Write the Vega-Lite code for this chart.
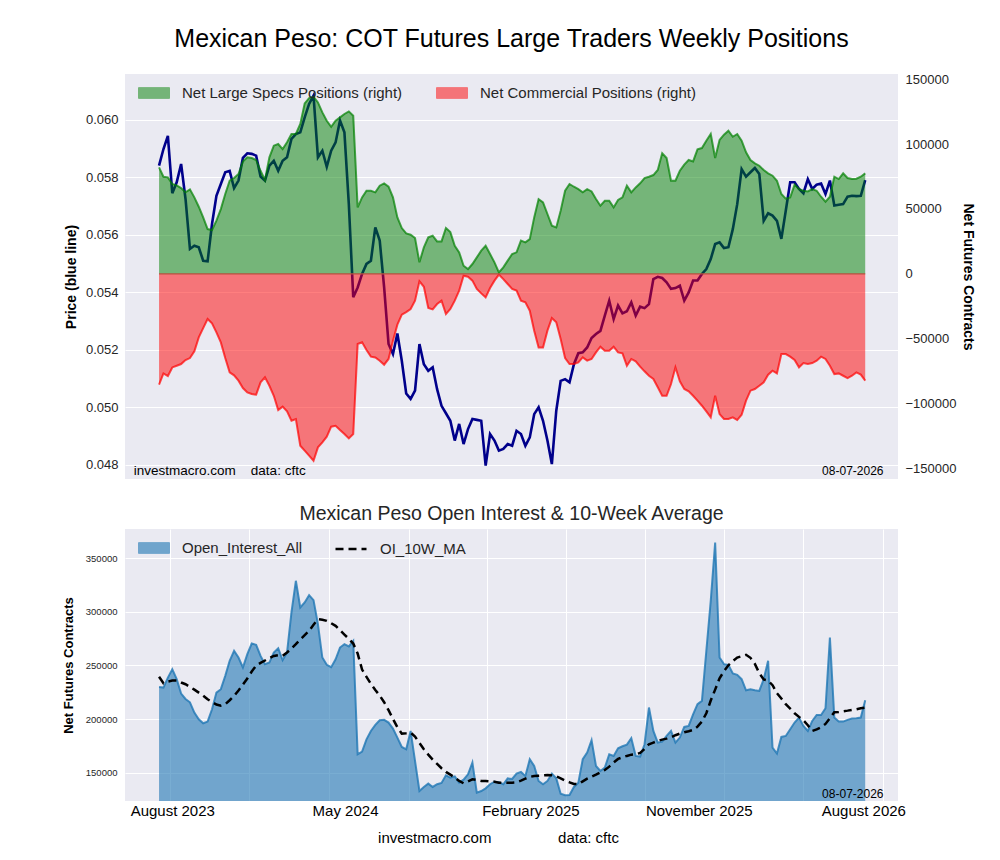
{
  "$schema": "https://vega.github.io/schema/vega-lite/v6.json",
  "description": "Mexican Peso: COT Futures Large Traders Weekly Positions",
  "background": "white",
  "padding": {"left": 62, "top": 27, "right": 5, "bottom": 5},
  "data": {
    "values": [
      {"d": "2023-07-11", "p": 0.05841, "s": 82000, "c": -85300, "oi": 229900, "ma": 239300},
      {"d": "2023-07-18", "p": 0.05899, "s": 74800, "c": -76600, "oi": 229300, "ma": 233400},
      {"d": "2023-07-25", "p": 0.05945, "s": 74300, "c": -78600, "oi": 238600, "ma": 234900},
      {"d": "2023-08-01", "p": 0.05745, "s": 69200, "c": -72000, "oi": 246400, "ma": 235800},
      {"d": "2023-08-08", "p": 0.05783, "s": 68200, "c": -70700, "oi": 237100, "ma": 235800},
      {"d": "2023-08-15", "p": 0.05847, "s": 66100, "c": -69400, "oi": 223700, "ma": 234000},
      {"d": "2023-08-22", "p": 0.05725, "s": 62800, "c": -66300, "oi": 218700, "ma": 232400},
      {"d": "2023-08-29", "p": 0.05551, "s": 65100, "c": -64800, "oi": 215600, "ma": 229900},
      {"d": "2023-09-05", "p": 0.05562, "s": 58900, "c": -59600, "oi": 206000, "ma": 227400},
      {"d": "2023-09-12", "p": 0.05557, "s": 51700, "c": -48900, "oi": 199800, "ma": 224600},
      {"d": "2023-09-19", "p": 0.05510, "s": 43500, "c": -41700, "oi": 196000, "ma": 221800},
      {"d": "2023-09-26", "p": 0.05508, "s": 34500, "c": -34700, "oi": 197600, "ma": 218400},
      {"d": "2023-10-03", "p": 0.05638, "s": 33800, "c": -38100, "oi": 209100, "ma": 215900},
      {"d": "2023-10-10", "p": 0.05736, "s": 41000, "c": -45000, "oi": 224600, "ma": 213500},
      {"d": "2023-10-17", "p": 0.05777, "s": 49900, "c": -52700, "oi": 227800, "ma": 212500},
      {"d": "2023-10-24", "p": 0.05818, "s": 61500, "c": -64800, "oi": 240200, "ma": 213800},
      {"d": "2023-10-31", "p": 0.05823, "s": 71700, "c": -75800, "oi": 254200, "ma": 217500},
      {"d": "2023-11-07", "p": 0.05763, "s": 73800, "c": -78100, "oi": 263500, "ma": 221500},
      {"d": "2023-11-14", "p": 0.05789, "s": 76900, "c": -82200, "oi": 257300, "ma": 226500},
      {"d": "2023-11-21", "p": 0.05868, "s": 86600, "c": -87900, "oi": 248000, "ma": 232100},
      {"d": "2023-11-28", "p": 0.05884, "s": 89700, "c": -91200, "oi": 260400, "ma": 237700},
      {"d": "2023-12-05", "p": 0.05882, "s": 89200, "c": -92500, "oi": 270300, "ma": 244200},
      {"d": "2023-12-12", "p": 0.05876, "s": 87700, "c": -93000, "oi": 269100, "ma": 249800},
      {"d": "2023-12-19", "p": 0.05803, "s": 79400, "c": -83500, "oi": 258800, "ma": 252300},
      {"d": "2023-12-26", "p": 0.05789, "s": 72300, "c": -79600, "oi": 251100, "ma": 254500},
      {"d": "2024-01-02", "p": 0.05841, "s": 89700, "c": -86100, "oi": 252600, "ma": 256700},
      {"d": "2024-01-09", "p": 0.05858, "s": 98700, "c": -93800, "oi": 262000, "ma": 258800},
      {"d": "2024-01-16", "p": 0.05823, "s": 100000, "c": -104800, "oi": 266000, "ma": 259500},
      {"d": "2024-01-23", "p": 0.05858, "s": 96100, "c": -102200, "oi": 254800, "ma": 258800},
      {"d": "2024-01-30", "p": 0.05870, "s": 101300, "c": -105800, "oi": 262000, "ma": 262000},
      {"d": "2024-02-06", "p": 0.05934, "s": 107700, "c": -113000, "oi": 299300, "ma": 265700},
      {"d": "2024-02-13", "p": 0.05951, "s": 107700, "c": -111700, "oi": 328800, "ma": 269700},
      {"d": "2024-02-20", "p": 0.05957, "s": 115400, "c": -132300, "oi": 303900, "ma": 274100},
      {"d": "2024-02-27", "p": 0.06009, "s": 131300, "c": -136100, "oi": 308600, "ma": 278100},
      {"d": "2024-03-05", "p": 0.06056, "s": 135400, "c": -139900, "oi": 315400, "ma": 282200},
      {"d": "2024-03-12", "p": 0.06085, "s": 136400, "c": -143800, "oi": 310800, "ma": 287800},
      {"d": "2024-03-19", "p": 0.05870, "s": 132000, "c": -133500, "oi": 288400, "ma": 293000},
      {"d": "2024-03-26", "p": 0.05893, "s": 124300, "c": -129700, "oi": 257300, "ma": 292400},
      {"d": "2024-04-02", "p": 0.05837, "s": 117900, "c": -125300, "oi": 250500, "ma": 291500},
      {"d": "2024-04-09", "p": 0.05893, "s": 113300, "c": -117600, "oi": 248300, "ma": 289300},
      {"d": "2024-04-16", "p": 0.05922, "s": 117900, "c": -116900, "oi": 255700, "ma": 286800},
      {"d": "2024-04-23", "p": 0.05998, "s": 120500, "c": -120200, "oi": 266600, "ma": 282800},
      {"d": "2024-04-30", "p": 0.05957, "s": 123100, "c": -123300, "oi": 269700, "ma": 278700},
      {"d": "2024-05-07", "p": 0.05707, "s": 125100, "c": -126600, "oi": 267600, "ma": 274700},
      {"d": "2024-05-14", "p": 0.05383, "s": 121800, "c": -123300, "oi": 272800, "ma": 270300},
      {"d": "2024-05-21", "p": 0.05417, "s": 51200, "c": -54000, "oi": 167100, "ma": 261000},
      {"d": "2024-05-28", "p": 0.05464, "s": 58900, "c": -52700, "oi": 169600, "ma": 246100},
      {"d": "2024-06-04", "p": 0.05499, "s": 64000, "c": -58600, "oi": 181100, "ma": 239300},
      {"d": "2024-06-11", "p": 0.05510, "s": 64000, "c": -63700, "oi": 188900, "ma": 232700},
      {"d": "2024-06-18", "p": 0.05626, "s": 62800, "c": -64300, "oi": 194500, "ma": 227100},
      {"d": "2024-06-25", "p": 0.05580, "s": 67900, "c": -66800, "oi": 198800, "ma": 221800},
      {"d": "2024-07-02", "p": 0.05417, "s": 69700, "c": -69900, "oi": 199200, "ma": 215600},
      {"d": "2024-07-09", "p": 0.05220, "s": 67100, "c": -65500, "oi": 196700, "ma": 208200},
      {"d": "2024-07-16", "p": 0.05185, "s": 58900, "c": -51400, "oi": 191100, "ma": 200100},
      {"d": "2024-07-23", "p": 0.05257, "s": 43500, "c": -39100, "oi": 182700, "ma": 192300},
      {"d": "2024-07-30", "p": 0.05162, "s": 35300, "c": -31400, "oi": 174000, "ma": 186400},
      {"d": "2024-08-06", "p": 0.05048, "s": 31200, "c": -29400, "oi": 171800, "ma": 186700},
      {"d": "2024-08-13", "p": 0.05029, "s": 30200, "c": -27000, "oi": 188900, "ma": 187300},
      {"d": "2024-08-20", "p": 0.05058, "s": 27600, "c": -20600, "oi": 160900, "ma": 183600},
      {"d": "2024-08-27", "p": 0.05220, "s": 8900, "c": -5700, "oi": 132900, "ma": 177700},
      {"d": "2024-09-03", "p": 0.05150, "s": 20400, "c": -9900, "oi": 136700, "ma": 171800},
      {"d": "2024-09-10", "p": 0.05127, "s": 28100, "c": -26300, "oi": 139800, "ma": 166800},
      {"d": "2024-09-17", "p": 0.05139, "s": 29400, "c": -27300, "oi": 136700, "ma": 162200},
      {"d": "2024-09-24", "p": 0.05063, "s": 25000, "c": -23200, "oi": 139200, "ma": 158100},
      {"d": "2024-10-01", "p": 0.05005, "s": 25000, "c": -20600, "oi": 140400, "ma": 154100},
      {"d": "2024-10-08", "p": 0.04979, "s": 35300, "c": -30900, "oi": 147500, "ma": 150700},
      {"d": "2024-10-15", "p": 0.04953, "s": 32200, "c": -27000, "oi": 145400, "ma": 148200},
      {"d": "2024-10-22", "p": 0.04884, "s": 21700, "c": -20600, "oi": 146600, "ma": 145400},
      {"d": "2024-10-29", "p": 0.04942, "s": 16600, "c": -12900, "oi": 140700, "ma": 142300},
      {"d": "2024-11-05", "p": 0.04872, "s": 6300, "c": -1400, "oi": 143500, "ma": 140100},
      {"d": "2024-11-12", "p": 0.04924, "s": 3700, "c": -2200, "oi": 148500, "ma": 141900},
      {"d": "2024-11-19", "p": 0.04959, "s": 7600, "c": -5200, "oi": 159400, "ma": 143800},
      {"d": "2024-11-26", "p": 0.04956, "s": 12700, "c": -11600, "oi": 131400, "ma": 143200},
      {"d": "2024-12-03", "p": 0.04953, "s": 17900, "c": -15000, "oi": 132900, "ma": 142300},
      {"d": "2024-12-10", "p": 0.04797, "s": 21700, "c": -18100, "oi": 135400, "ma": 142300},
      {"d": "2024-12-17", "p": 0.04907, "s": 15300, "c": -10900, "oi": 139200, "ma": 141900},
      {"d": "2024-12-24", "p": 0.04884, "s": 8900, "c": -5200, "oi": 141600, "ma": 141600},
      {"d": "2024-12-31", "p": 0.04849, "s": 1200, "c": -500, "oi": 141000, "ma": 140700},
      {"d": "2025-01-07", "p": 0.04855, "s": 5000, "c": -4000, "oi": 139200, "ma": 140700},
      {"d": "2025-01-14", "p": 0.04872, "s": 10200, "c": -7800, "oi": 144700, "ma": 140700},
      {"d": "2025-01-21", "p": 0.04866, "s": 15300, "c": -11600, "oi": 144100, "ma": 140700},
      {"d": "2025-01-28", "p": 0.04918, "s": 16600, "c": -12900, "oi": 149100, "ma": 141000},
      {"d": "2025-02-04", "p": 0.04907, "s": 25600, "c": -20600, "oi": 150700, "ma": 142600},
      {"d": "2025-02-11", "p": 0.04866, "s": 24300, "c": -21900, "oi": 146900, "ma": 144400},
      {"d": "2025-02-18", "p": 0.04895, "s": 26800, "c": -28300, "oi": 162500, "ma": 146000},
      {"d": "2025-02-25", "p": 0.04976, "s": 43500, "c": -43700, "oi": 156200, "ma": 146900},
      {"d": "2025-03-04", "p": 0.05000, "s": 57600, "c": -56600, "oi": 142300, "ma": 147200},
      {"d": "2025-03-11", "p": 0.04953, "s": 55100, "c": -56600, "oi": 139200, "ma": 147500},
      {"d": "2025-03-18", "p": 0.04884, "s": 46100, "c": -43700, "oi": 142300, "ma": 147800},
      {"d": "2025-03-25", "p": 0.04802, "s": 37100, "c": -34000, "oi": 149100, "ma": 147500},
      {"d": "2025-04-01", "p": 0.04988, "s": 35800, "c": -37300, "oi": 144700, "ma": 146600},
      {"d": "2025-04-08", "p": 0.05092, "s": 48700, "c": -50100, "oi": 130400, "ma": 144700},
      {"d": "2025-04-15", "p": 0.05098, "s": 64000, "c": -64800, "oi": 128900, "ma": 142600},
      {"d": "2025-04-22", "p": 0.05087, "s": 69200, "c": -69400, "oi": 129200, "ma": 141000},
      {"d": "2025-04-29", "p": 0.05150, "s": 67100, "c": -69400, "oi": 136700, "ma": 139500},
      {"d": "2025-05-06", "p": 0.05188, "s": 65300, "c": -68100, "oi": 140700, "ma": 139200},
      {"d": "2025-05-13", "p": 0.05191, "s": 62800, "c": -64300, "oi": 162500, "ma": 141900},
      {"d": "2025-05-20", "p": 0.05208, "s": 65300, "c": -66800, "oi": 168700, "ma": 144400},
      {"d": "2025-05-27", "p": 0.05241, "s": 63500, "c": -65500, "oi": 180200, "ma": 146300},
      {"d": "2025-06-03", "p": 0.05255, "s": 57600, "c": -60400, "oi": 156200, "ma": 148200},
      {"d": "2025-06-10", "p": 0.05266, "s": 52500, "c": -56000, "oi": 151600, "ma": 150300},
      {"d": "2025-06-17", "p": 0.05319, "s": 56300, "c": -59100, "oi": 154700, "ma": 152500},
      {"d": "2025-06-24", "p": 0.05371, "s": 56300, "c": -59100, "oi": 167100, "ma": 155600},
      {"d": "2025-07-01", "p": 0.05307, "s": 51200, "c": -56000, "oi": 165600, "ma": 159400},
      {"d": "2025-07-08", "p": 0.05354, "s": 56900, "c": -60400, "oi": 172700, "ma": 162800},
      {"d": "2025-07-15", "p": 0.05327, "s": 58900, "c": -61200, "oi": 174600, "ma": 164300},
      {"d": "2025-07-22", "p": 0.05334, "s": 67900, "c": -70700, "oi": 176100, "ma": 165600},
      {"d": "2025-07-29", "p": 0.05365, "s": 62800, "c": -65500, "oi": 182100, "ma": 166800},
      {"d": "2025-08-05", "p": 0.05319, "s": 66600, "c": -67300, "oi": 165600, "ma": 167100},
      {"d": "2025-08-12", "p": 0.05350, "s": 69700, "c": -71400, "oi": 165000, "ma": 168400},
      {"d": "2025-08-19", "p": 0.05345, "s": 73800, "c": -75000, "oi": 176500, "ma": 172100},
      {"d": "2025-08-26", "p": 0.05359, "s": 74800, "c": -78400, "oi": 210700, "ma": 176500},
      {"d": "2025-09-02", "p": 0.05446, "s": 76100, "c": -80900, "oi": 188900, "ma": 178000},
      {"d": "2025-09-09", "p": 0.05454, "s": 80000, "c": -87300, "oi": 178000, "ma": 179600},
      {"d": "2025-09-16", "p": 0.05450, "s": 92800, "c": -93800, "oi": 178900, "ma": 180800},
      {"d": "2025-09-23", "p": 0.05435, "s": 89200, "c": -93800, "oi": 184200, "ma": 181700},
      {"d": "2025-09-30", "p": 0.05412, "s": 71700, "c": -84800, "oi": 188900, "ma": 183000},
      {"d": "2025-10-07", "p": 0.05415, "s": 71700, "c": -71900, "oi": 178000, "ma": 184900},
      {"d": "2025-10-14", "p": 0.05423, "s": 79400, "c": -82700, "oi": 182700, "ma": 186400},
      {"d": "2025-10-21", "p": 0.05371, "s": 84100, "c": -88600, "oi": 192600, "ma": 187700},
      {"d": "2025-10-28", "p": 0.05400, "s": 87700, "c": -90400, "oi": 193600, "ma": 188600},
      {"d": "2025-11-04", "p": 0.05441, "s": 86600, "c": -93800, "oi": 204400, "ma": 189800},
      {"d": "2025-11-11", "p": 0.05441, "s": 95900, "c": -97600, "oi": 213800, "ma": 192900},
      {"d": "2025-11-18", "p": 0.05464, "s": 96900, "c": -101500, "oi": 216900, "ma": 197600},
      {"d": "2025-11-25", "p": 0.05481, "s": 102500, "c": -105800, "oi": 263500, "ma": 205400},
      {"d": "2025-12-02", "p": 0.05516, "s": 107700, "c": -110400, "oi": 310100, "ma": 217200},
      {"d": "2025-12-09", "p": 0.05568, "s": 89200, "c": -93800, "oi": 364500, "ma": 227400},
      {"d": "2025-12-16", "p": 0.05574, "s": 103100, "c": -107900, "oi": 257300, "ma": 238000},
      {"d": "2025-12-23", "p": 0.05554, "s": 107200, "c": -111700, "oi": 251100, "ma": 244500},
      {"d": "2025-12-30", "p": 0.05557, "s": 110200, "c": -111700, "oi": 250500, "ma": 250100},
      {"d": "2026-01-06", "p": 0.05620, "s": 105600, "c": -110400, "oi": 242400, "ma": 253900},
      {"d": "2026-01-13", "p": 0.05707, "s": 107700, "c": -112500, "oi": 241100, "ma": 257300},
      {"d": "2026-01-20", "p": 0.05829, "s": 102500, "c": -108400, "oi": 237100, "ma": 258500},
      {"d": "2026-01-27", "p": 0.05803, "s": 93600, "c": -97600, "oi": 226800, "ma": 259800},
      {"d": "2026-02-03", "p": 0.05818, "s": 87700, "c": -89900, "oi": 227800, "ma": 257000},
      {"d": "2026-02-10", "p": 0.05833, "s": 85100, "c": -88600, "oi": 226800, "ma": 251400},
      {"d": "2026-02-17", "p": 0.05812, "s": 83300, "c": -86100, "oi": 226200, "ma": 242700},
      {"d": "2026-02-24", "p": 0.05649, "s": 80000, "c": -83500, "oi": 237100, "ma": 236800},
      {"d": "2026-03-03", "p": 0.05675, "s": 77400, "c": -77600, "oi": 254200, "ma": 235800},
      {"d": "2026-03-10", "p": 0.05667, "s": 75600, "c": -74500, "oi": 173300, "ma": 231500},
      {"d": "2026-03-17", "p": 0.05649, "s": 71700, "c": -76600, "oi": 167800, "ma": 224000},
      {"d": "2026-03-24", "p": 0.05586, "s": 61500, "c": -61700, "oi": 183300, "ma": 219100},
      {"d": "2026-03-31", "p": 0.05684, "s": 57900, "c": -61700, "oi": 184200, "ma": 213800},
      {"d": "2026-04-07", "p": 0.05783, "s": 58900, "c": -63700, "oi": 190400, "ma": 209700},
      {"d": "2026-04-14", "p": 0.05783, "s": 68700, "c": -66300, "oi": 196700, "ma": 205400},
      {"d": "2026-04-21", "p": 0.05760, "s": 65300, "c": -71900, "oi": 201300, "ma": 202000},
      {"d": "2026-04-28", "p": 0.05745, "s": 64000, "c": -68600, "oi": 193600, "ma": 198800},
      {"d": "2026-05-05", "p": 0.05794, "s": 63500, "c": -69400, "oi": 188900, "ma": 194200},
      {"d": "2026-05-12", "p": 0.05760, "s": 65300, "c": -68600, "oi": 198200, "ma": 188900},
      {"d": "2026-05-19", "p": 0.05775, "s": 64000, "c": -66800, "oi": 203800, "ma": 190400},
      {"d": "2026-05-26", "p": 0.05779, "s": 59400, "c": -63700, "oi": 203800, "ma": 192300},
      {"d": "2026-06-02", "p": 0.05742, "s": 55600, "c": -65500, "oi": 210000, "ma": 195400},
      {"d": "2026-06-09", "p": 0.05789, "s": 59400, "c": -70700, "oi": 275900, "ma": 200700},
      {"d": "2026-06-16", "p": 0.05702, "s": 74800, "c": -77100, "oi": 201300, "ma": 206300},
      {"d": "2026-06-23", "p": 0.05705, "s": 73000, "c": -76600, "oi": 197600, "ma": 206600},
      {"d": "2026-06-30", "p": 0.05707, "s": 77400, "c": -78400, "oi": 197600, "ma": 207200},
      {"d": "2026-07-07", "p": 0.05733, "s": 73800, "c": -80200, "oi": 199200, "ma": 207800},
      {"d": "2026-07-14", "p": 0.05736, "s": 73000, "c": -78400, "oi": 200400, "ma": 208500},
      {"d": "2026-07-21", "p": 0.05735, "s": 73300, "c": -75800, "oi": 200700, "ma": 209100},
      {"d": "2026-07-28", "p": 0.05736, "s": 74800, "c": -77500, "oi": 201300, "ma": 210000},
      {"d": "2026-08-04", "p": 0.05791, "s": 77400, "c": -82200, "oi": 217500, "ma": 210700}
    ]
  },
  "spacing": 24,
  "vconcat": [
    {
      "width": 773,
      "height": 405,
      "title": {
        "text": "Mexican Peso: COT Futures Large Traders Weekly Positions",
        "fontSize": 25,
        "fontWeight": "normal",
        "color": "#000000",
        "anchor": "middle",
        "offset": 21
      },
      "layer": [
        {
          "mark": {"type": "line", "color": "#00008b", "strokeWidth": 2.6},
          "encoding": {
            "x": {
              "field": "d",
              "type": "temporal",
              "scale": {"domain": [{"year": 2023, "month": 5, "date": 18}, {"year": 2026, "month": 9, "date": 25}]},
              "axis": {
                "title": null,
                "labels": false,
                "grid": true,
                "values": [
                  {"year": 2023, "month": 7, "date": 28}, {"year": 2023, "month": 12, "date": 1},
                  {"year": 2024, "month": 4, "date": 6}, {"year": 2024, "month": 8, "date": 10},
                  {"year": 2024, "month": 12, "date": 12}, {"year": 2025, "month": 4, "date": 17},
                  {"year": 2025, "month": 8, "date": 20}, {"year": 2025, "month": 12, "date": 23},
                  {"year": 2026, "month": 4, "date": 27}, {"year": 2026, "month": 9, "date": 1}
                ]
              }
            },
            "y": {
              "field": "p",
              "type": "quantitative",
              "scale": {"domain": [0.047502, 0.061601], "nice": false, "zero": false},
              "axis": {
                "orient": "left",
                "title": "Price (blue line)",
                "values": [0.048, 0.050, 0.052, 0.054, 0.056, 0.058, 0.060],
                "format": ".3f",
                "labelFontSize": 13,
                "labelPadding": 7,
                "titleFontSize": 14,
                "titlePadding": 7
              }
            }
          }
        },
        {
          "layer": [
            {
              "transform": [{"fold": ["s", "c"], "as": ["series", "v"]}],
              "mark": {
                "type": "area",
                "fillOpacity": 0.5,
                "line": {"strokeWidth": 2, "opacity": 0.7}
              },
              "encoding": {
                "x": {"field": "d", "type": "temporal", "axis": null},
                "y": {
                  "field": "v",
                  "type": "quantitative",
                  "stack": null,
                  "scale": {"domain": [-157890, 153888], "nice": false},
                  "axis": {
                    "orient": "right",
                    "title": "Net Futures Contracts",
                    "values": [-150000, -100000, -50000, 0, 50000, 100000, 150000],
                    "format": "d",
                    "labelFontSize": 13,
                    "labelPadding": 7,
                    "titleFontSize": 14,
                    "titlePadding": 5
                  }
                },
                "color": {
                  "field": "series",
                  "type": "nominal",
                  "scale": {"domain": ["s", "c"], "range": ["#008000", "#ff0000"]},
                  "legend": {
                    "title": null,
                    "orient": "none",
                    "legendX": 13,
                    "legendY": 3,
                    "direction": "horizontal",
                    "symbolType": "M-1,-0.345H1V0.345H-1Z",
                    "symbolSize": 961,
                    "symbolOpacity": 0.5,
                    "symbolStrokeWidth": 1,
                    "labelOffset": 12,
                    "labelLimit": 400,
                    "columnPadding": 31,
                    "labelExpr": "datum.value === 's' ? 'Net Large Specs Positions (right)' : 'Net Commercial Positions (right)'"
                  }
                }
              }
            },
            {
              "data": {"values": [{"a": 1}]},
              "mark": {"type": "rule", "color": "#b9503f", "strokeWidth": 1.3},
              "encoding": {
                "x": {"datum": {"year": 2023, "month": 7, "date": 11}, "type": "temporal", "axis": null},
                "x2": {"datum": {"year": 2026, "month": 8, "date": 4}},
                "y": {"datum": 0, "type": "quantitative"}
              }
            },
            {
              "data": {"values": [{"a": 1}]},
              "mark": {"type": "text", "align": "left", "baseline": "middle", "fontSize": 13.5, "color": "#000000",
                "text": "investmacro.com\u00a0\u00a0\u00a0\u00a0data: cftc"},
              "encoding": {
                "x": {"datum": {"year": 2023, "month": 6, "date": 1}, "type": "temporal", "axis": null},
                "y": {"datum": -151500, "type": "quantitative"}
              }
            },
            {
              "data": {"values": [{"a": 1}]},
              "mark": {"type": "text", "align": "right", "baseline": "middle", "fontSize": 12, "color": "#000000", "text": "08-07-2026"},
              "encoding": {
                "x": {"datum": {"year": 2026, "month": 9, "date": 2}, "type": "temporal", "axis": null},
                "y": {"datum": -151500, "type": "quantitative"}
              }
            }
          ]
        }
      ],
      "resolve": {"scale": {"y": "independent"}}
    },
    {
      "width": 773,
      "height": 272,
      "title": {
        "text": "Mexican Peso Open Interest & 10-Week Average",
        "fontSize": 19.5,
        "fontWeight": "normal",
        "color": "#262626",
        "anchor": "middle",
        "offset": 5
      },
      "layer": [
        {
          "mark": {"type": "area", "color": "#1f77b4", "fillOpacity": 0.6, "clip": true},
          "encoding": {
            "x": {
              "field": "d",
              "type": "temporal",
              "scale": {"domain": [{"year": 2023, "month": 5, "date": 18}, {"year": 2026, "month": 9, "date": 25}]},
              "axis": {
                "orient": "bottom",
                "title": null,
                "labels": false,
                "grid": true,
                "values": [
                  {"year": 2023, "month": 7, "date": 28}, {"year": 2023, "month": 12, "date": 1},
                  {"year": 2024, "month": 4, "date": 6}, {"year": 2024, "month": 8, "date": 10},
                  {"year": 2024, "month": 12, "date": 12}, {"year": 2025, "month": 4, "date": 17},
                  {"year": 2025, "month": 8, "date": 20}, {"year": 2025, "month": 12, "date": 23},
                  {"year": 2026, "month": 4, "date": 27}, {"year": 2026, "month": 9, "date": 1}
                ]
              }
            },
            "y": {
              "field": "oi",
              "type": "quantitative",
              "scale": {"domain": [123600, 377050], "nice": false, "zero": false},
              "axis": {
                "title": "Net Futures Contracts",
                "values": [150000, 200000, 250000, 300000, 350000],
                "format": "d",
                "labelFontSize": 9.5,
                "labelPadding": 8,
                "titleFontSize": 13,
                "titlePadding": 10
              }
            },
            "fill": {
              "datum": "Open_Interest_All",
              "type": "nominal",
              "scale": {"range": ["#1f77b4"]},
              "legend": {
                "title": null,
                "orient": "none",
                "legendX": 13,
                "legendY": 3,
                "symbolType": "M-1,-0.345H1V0.345H-1Z",
                "symbolSize": 961,
                "symbolOpacity": 0.6,
                "symbolStrokeColor": "#1f77b4",
                "symbolStrokeWidth": 1,
                "labelOffset": 12,
                "labelFontSize": 15,
                "labelLimit": 400
              }
            }
          }
        },
        {
          "mark": {"type": "line", "color": "#1f77b4", "strokeWidth": 2, "opacity": 0.8},
          "encoding": {
            "x": {"field": "d", "type": "temporal", "axis": null},
            "y": {"field": "oi", "type": "quantitative"}
          }
        },
        {
          "mark": {"type": "line", "color": "#000000", "strokeWidth": 2.5},
          "encoding": {
            "x": {
              "field": "d",
              "type": "temporal",
              "axis": {
                "orient": "bottom",
                "grid": false,
                "values": [
                  {"year": 2023, "month": 8, "date": 1}, {"year": 2024, "month": 5, "date": 1},
                  {"year": 2025, "month": 2, "date": 19}, {"year": 2025, "month": 11, "date": 13},
                  {"year": 2026, "month": 8, "date": 1}
                ],
                "format": "%B %Y",
                "labelFontSize": 15,
                "labelColor": "#000000",
                "labelPadding": 2,
                "title": "investmacro.com\u00a0\u00a0\u00a0\u00a0\u00a0\u00a0\u00a0\u00a0\u00a0\u00a0\u00a0\u00a0\u00a0\u00a0\u00a0\u00a0data: cftc",
                "titleFontSize": 15,
                "titleFontWeight": "normal",
                "titleColor": "#000000",
                "titleX": 373,
                "titleY": 36,
                "titleAlign": "center",
                "titleBaseline": "middle"
              }
            },
            "y": {"field": "ma", "type": "quantitative"},
            "strokeDash": {
              "datum": "OI_10W_MA",
              "type": "nominal",
              "scale": {"range": [[8, 5]]},
              "legend": {
                "title": null,
                "orient": "none",
                "legendX": 209,
                "legendY": 3,
                "symbolType": "stroke",
                "symbolSize": 961,
                "symbolStrokeColor": "#000000",
                "symbolStrokeWidth": 2.5,
                "labelOffset": 12,
                "labelFontSize": 15,
                "labelLimit": 400
              }
            }
          }
        },
        {
          "data": {"values": [{"a": 1}]},
          "mark": {"type": "text", "align": "right", "baseline": "middle", "fontSize": 12, "color": "#000000", "text": "08-07-2026"},
          "encoding": {
            "x": {"datum": {"year": 2026, "month": 9, "date": 2}, "type": "temporal", "axis": null},
            "y": {"datum": 129850, "type": "quantitative"}
          }
        }
      ],
      "resolve": {"axis": {"x": "independent"}}
    }
  ],
  "resolve": {
    "scale": {"color": "independent", "fill": "independent", "strokeDash": "independent"},
    "legend": {"color": "independent", "fill": "independent", "strokeDash": "independent"}
  },
  "config": {
    "font": "Liberation Sans",
    "view": {"fill": "#eaeaf2", "stroke": null},
    "axis": {
      "gridColor": "#ffffff",
      "gridWidth": 1,
      "gridOpacity": 1,
      "domain": false,
      "ticks": false,
      "labelColor": "#262626",
      "labelFont": "Liberation Sans",
      "titleFont": "Liberation Sans",
      "titleColor": "#000000",
      "titleFontWeight": "bold"
    },
    "legend": {
      "labelFont": "Liberation Sans",
      "labelFontSize": 15,
      "labelColor": "#262626",
      "padding": 0
    },
    "title": {"font": "Liberation Sans"}
  }
}
